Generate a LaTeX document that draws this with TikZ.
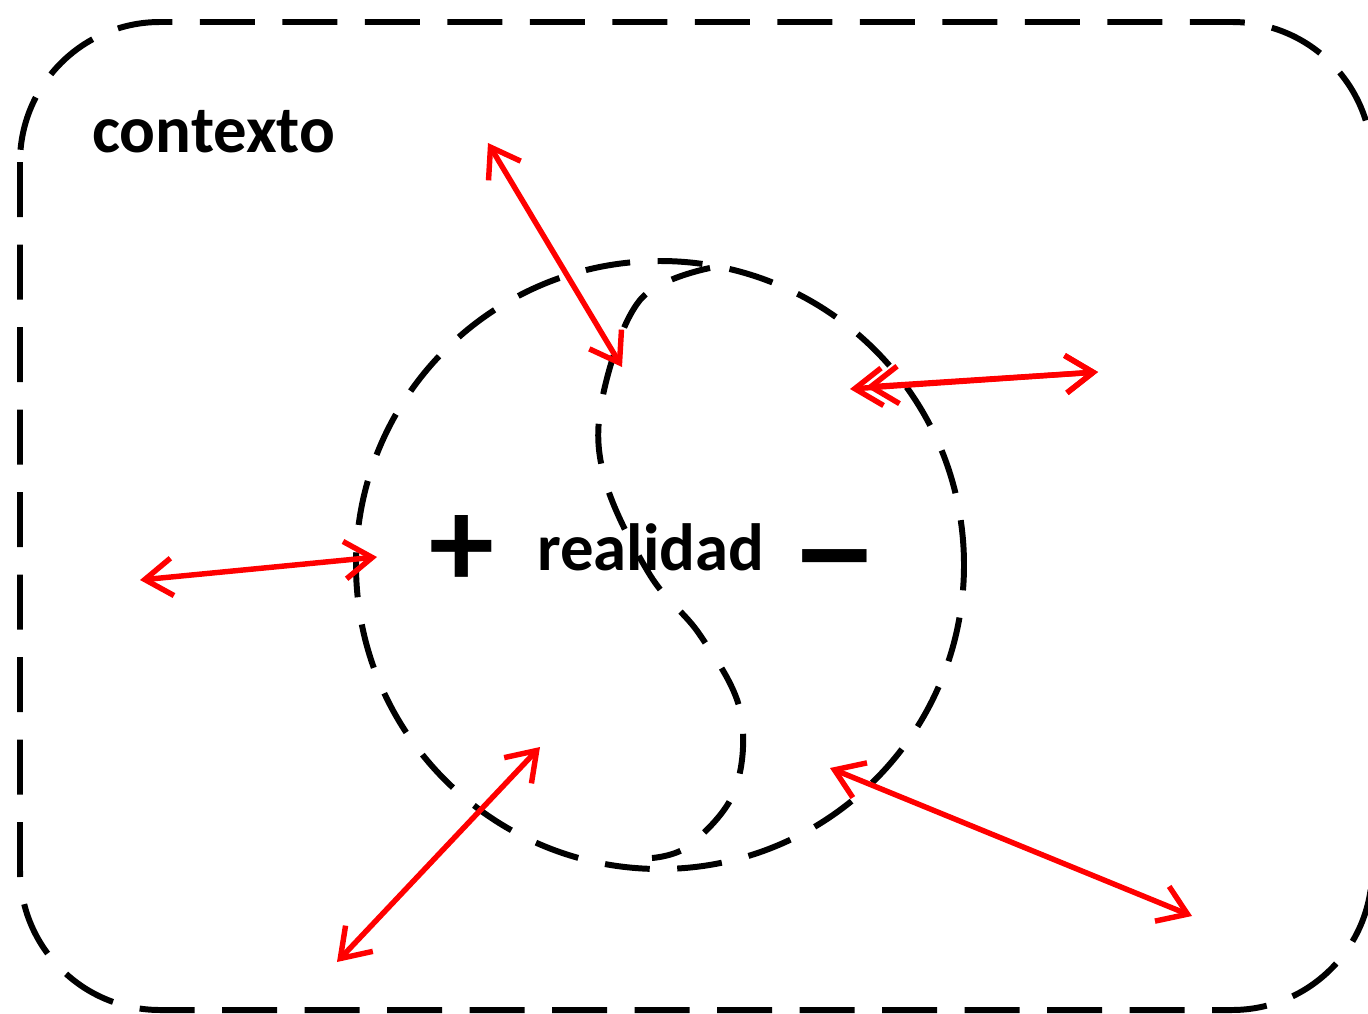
\documentclass[tikz,border=0pt]{standalone}
\usepackage{fontspec}
\setmainfont{Carlito}
\usetikzlibrary{arrows.meta}

\tikzset{
  marco/.style={draw=black, line width=3.4pt, dash pattern=on 1.1cm off 0.55cm},
  borde/.style={draw=black, line width=3.4pt, dash pattern=on 0.9cm off 0.55cm},
  flecha/.style={draw=red, line width=3.1pt, line cap=round,
    {Straight Barb[length=0.55cm,width=0.75cm]}-{Straight Barb[length=0.55cm,width=0.75cm]}},
  rotulo/.style={font=\fontsize{38}{40}\selectfont\bfseries, inner sep=0pt},
  signo/.style={font=\fontsize{74}{80}\selectfont\bfseries, inner sep=0pt}
}

\begin{document}
\begin{tikzpicture}
    \useasboundingbox (0,0) rectangle (27.36,-20.26);

    % contexto
    \draw[marco, rounded corners=2.8cm] (0.4,-0.44) rectangle (27.44,-20.2);
    \node[rotulo, anchor=base west] (contexto) at (1.84,-3.04) {contexto};

    % realidad
    \node[shape=circle, borde, minimum size=12.16cm, inner sep=0pt] (mundo) at (13.2,-11.3) {};
    \draw[borde, dash pattern=on 0.8cm off 0.6cm] plot[smooth, tension=0.6] coordinates {
        (14.2,-5.36) (12.8,-6.0) (12.04,-8.0) (12.1,-9.6) (13.0,-11.5)
        (14.0,-12.7) (14.8,-14.2) (14.7,-15.8) (13.8,-16.9) (13.04,-17.16)};

    \node[rotulo, anchor=base west] (realidad) at (10.74,-11.4) {realidad};
    \node[signo] (mas) at (9.24,-11.02) {+};
    \node[signo] (menos) at (16.7,-11.48) {\scalebox{1.4}[1.15]{--}};

    % extremos de las flechas
    \coordinate (a1) at (9.76,-2.86);
    \coordinate (b1) at (12.44,-7.34);
    \coordinate (a2) at (17.0,-7.78);
    \coordinate (c2) at (17.32,-7.74);
    \coordinate (b2) at (21.96,-7.44);
    \coordinate (a3) at (2.8,-11.6);
    \coordinate (b3) at (7.54,-11.14);
    \coordinate (a4) at (6.74,-19.24);
    \coordinate (b4) at (10.8,-14.94);
    \coordinate (a5) at (16.6,-15.36);
    \coordinate (b5) at (23.84,-18.32);

    \draw[flecha] (a1) -- (b1);
    \draw[flecha] (a2) -- (b2);
    \draw[flecha] (c2) -- (b2);
    \draw[flecha] (a3) -- (b3);
    \draw[flecha] (a4) -- (b4);
    \draw[flecha] (a5) -- (b5);
\end{tikzpicture}
\end{document}
